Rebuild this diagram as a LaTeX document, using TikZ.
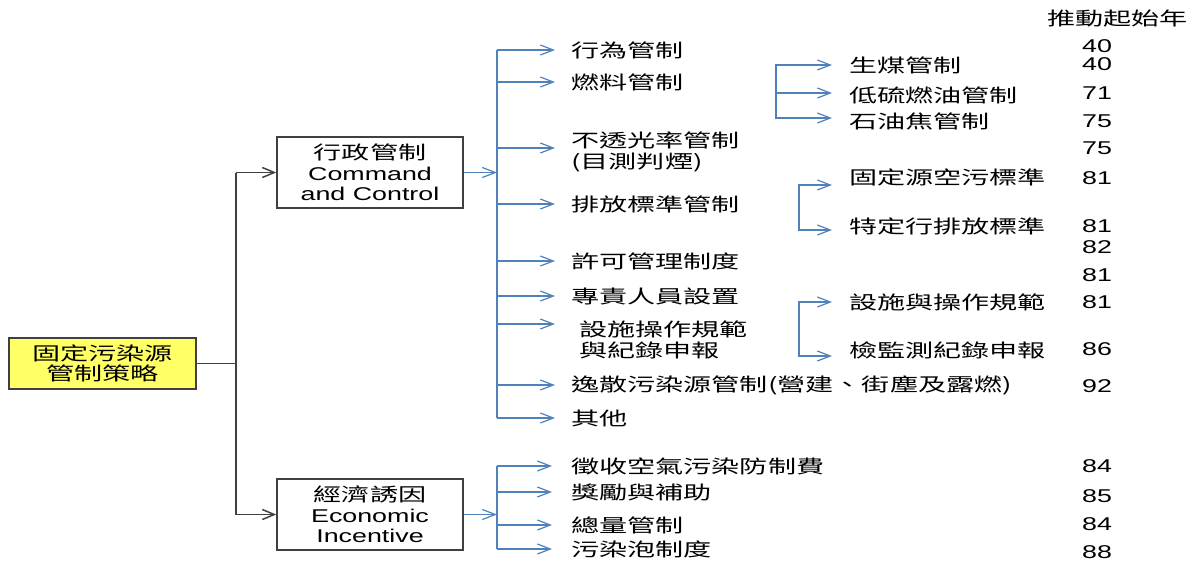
\documentclass[tikz,border=0pt]{standalone}
\usepackage{fontspec}
\setmainfont[FakeStretch=1.45]{Liberation Sans}
\newfontfamily\cjk[FakeStretch=1.52]{Noto Sans CJK TC}
\usepackage{tikz}
\usetikzlibrary{arrows.meta}
\definecolor{lineblue}{RGB}{79,129,189}
\definecolor{linegray}{RGB}{64,64,64}
\definecolor{boxyellow}{RGB}{255,255,102}

\begin{document}
\begin{tikzpicture}[x=1pt,y=-1pt,
        every node/.style={font=\fontsize{18.5}{20.5}\selectfont, inner sep=0pt},
        box/.style={draw=linegray, line width=1.5pt, align=center, minimum width=186pt, minimum height=71pt},
        item/.style={anchor=west, align=left},
        zh/.style={item, font=\fontsize{18.5}{20.5}\selectfont\cjk},
        gline/.style={linegray, line width=1.5pt},
        garrow/.style={gline, -{Straight Barb[length=12pt,width=10pt]}},
        bline/.style={lineblue, line width=1.2pt},
        barrow/.style={bline, -{Straight Barb[length=13pt,width=10pt]}},
        bboth/.style={bline, {Straight Barb[length=13pt,width=10pt]}-{Straight Barb[length=13pt,width=10pt]}}]
        \useasboundingbox (0,0) rectangle (1197,563);
        \node[box, fill=boxyellow, minimum width=187pt, minimum height=51pt, font=\fontsize{18.5}{20.5}\selectfont\cjk] (root) at (102.5,363.5) {固定污染源\\管制策略};
        \node[box] (cc) at (370,172.5) {{\cjk 行政管制}\\Command\\and Control};
        \node[box] (ei) at (370,514.5) {{\cjk 經濟誘因}\\Economic\\Incentive};
        \node[zh] (a1) at (571,50) {行為管制};
        \node[zh] (a2) at (571,82) {燃料管制};
        \node[zh] (a3) at (571,152) {不透光率管制\\(目測判煙)};
        \node[zh] (a4) at (571,204) {排放標準管制};
        \node[zh] (a5) at (571,261) {許可管理制度};
        \node[zh] (a6) at (571,296) {專責人員設置};
        \node[zh] (a7) at (579,340) {設施操作規範\\與紀錄申報};
        \node[zh] (a8) at (571,385) {逸散污染源管制(營建、街塵及露燃)};
        \node[zh] (a9) at (571,418) {其他};
        \node[zh] (e1) at (571,466) {徵收空氣污染防制費};
        \node[zh] (e2) at (571,492) {獎勵與補助};
        \node[zh] (e3) at (571,525) {總量管制};
        \node[zh] (e4) at (571,549) {污染泡制度};
        \node[zh] (b1) at (849,65) {生煤管制};
        \node[zh] (b2) at (849,95) {低硫燃油管制};
        \node[zh] (b3) at (849,121) {石油焦管制};
        \node[zh] (c1) at (849,177) {固定源空污標準};
        \node[zh] (c2) at (849,226) {特定行排放標準};
        \node[zh] (d1) at (849,302) {設施與操作規範};
        \node[zh] (d2) at (849,350) {檢監測紀錄申報};
        \node[zh] (yr) at (1047,19) {推動起始年};
        \node[item] (n1) at (1082,46) {40};
        \node[item] (n2) at (1082,64) {40};
        \node[item] (n3) at (1082,93) {71};
        \node[item] (n4) at (1082,121) {75};
        \node[item] (n5) at (1082,148) {75};
        \node[item] (n6) at (1082,178) {81};
        \node[item] (n7) at (1082,226) {81};
        \node[item] (n8) at (1082,247) {82};
        \node[item] (n9) at (1082,275) {81};
        \node[item] (n10) at (1082,302) {81};
        \node[item] (n11) at (1082,349) {86};
        \node[item] (n12) at (1082,386) {92};
        \node[item] (n13) at (1082,466) {84};
        \node[item] (n14) at (1082,496) {85};
        \node[item] (n15) at (1082,524) {84};
        \node[item] (n16) at (1082,552) {88};

        \coordinate (rk) at (236,363.5);
        \draw[gline] (root.east) -- (rk);
        \draw[gline] (rk |- cc.west) -- (rk |- ei.west);
        \draw[garrow] (rk |- cc.west) -- (cc.west);
        \draw[garrow] (rk |- ei.west) -- (ei.west);

        \coordinate (tA) at (497,172.5);
        \coordinate (a3tip) at ([xshift=-16pt,yshift=4pt]a3.west);
        \coordinate (a7tip) at ([xshift=-24pt,yshift=16pt]a7.west);
        \draw[barrow] (cc.east) -- (tA);
        \draw[bline] (tA |- a1.west) -- (tA |- a9.west);
        \draw[barrow] (tA |- a1.west) -- ([xshift=-16pt]a1.west);
        \draw[barrow] (tA |- a2.west) -- ([xshift=-16pt]a2.west);
        \draw[barrow] (tA |- a3tip) -- (a3tip);
        \draw[barrow] (tA |- a4.west) -- ([xshift=-16pt]a4.west);
        \draw[barrow] (tA |- a5.west) -- ([xshift=-16pt]a5.west);
        \draw[barrow] (tA |- a6.west) -- ([xshift=-16pt]a6.west);
        \draw[barrow] (tA |- a7tip) -- (a7tip);
        \draw[barrow] (tA |- a8.west) -- ([xshift=-16pt]a8.west);
        \draw[barrow] (tA |- a9.west) -- ([xshift=-16pt]a9.west);

        \coordinate (tB) at (497,514.5);
        \draw[barrow] (ei.east) -- (tB);
        \draw[bline] (tB |- e1.west) -- (tB |- e4.west);
        \draw[barrow] (tB |- e1.west) -- ([xshift=-19pt]e1.west);
        \draw[barrow] (tB |- e2.west) -- ([xshift=-19pt]e2.west);
        \draw[barrow] (tB |- e3.west) -- ([xshift=-19pt]e3.west);
        \draw[barrow] (tB |- e4.west) -- ([xshift=-19pt]e4.west);

        \coordinate (tC) at (776,0);
        \coordinate (b1tip) at ([xshift=-17pt]b1.west);
        \coordinate (b2tip) at ([xshift=-17pt,yshift=2pt]b2.west);
        \coordinate (b3tip) at ([xshift=-17pt,yshift=3pt]b3.west);
        \draw[bboth] (b1tip) -| (tC |- b3tip) -- (b3tip);
        \draw[barrow] (tC |- b2tip) -- (b2tip);

        \coordinate (tD) at (799,0);
        \coordinate (c1tip) at ([xshift=-17pt,yshift=-8pt]c1.west);
        \coordinate (c2tip) at ([xshift=-17pt,yshift=-4pt]c2.west);
        \draw[bboth] (c1tip) -| (tD |- c2tip) -- (c2tip);
        \coordinate (d1tip) at ([xshift=-17pt]d1.west);
        \coordinate (d2tip) at ([xshift=-17pt,yshift=-6pt]d2.west);
        \draw[bboth] (d1tip) -| (tD |- d2tip) -- (d2tip);
\end{tikzpicture}
\end{document}
